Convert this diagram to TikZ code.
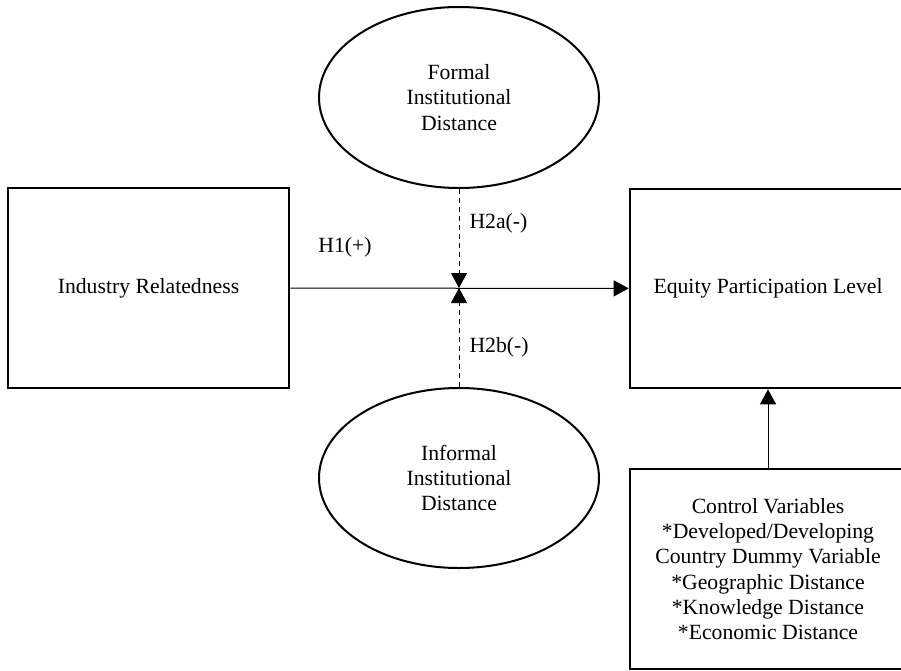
\documentclass[tikz,border=0pt]{standalone}
\usepackage{fontspec}
\setmainfont{Liberation Serif}
\usetikzlibrary{arrows.meta,shapes.geometric}

\begin{document}
\begin{tikzpicture}[x=1pt,y=-1pt,
  every node/.style={font=\fontsize{21.7}{25.3}\selectfont},
  varbox/.style={draw, line width=2.6pt, rectangle, inner sep=0pt, align=center},
  modbox/.style={draw, line width=2pt, ellipse, inner sep=0pt, align=center},
  path/.style={line width=1pt, -{Triangle[length=15pt,width=16pt]}},
  modpath/.style={path, dash pattern=on 5pt off 4pt}]
\useasboundingbox (0,0) rectangle (901,671);
\clip (0,0) rectangle (901,671);
\node[varbox, minimum width=281pt, minimum height=200pt] (ind) at (148.5,288){Industry Relatedness};
\node[varbox, minimum width=276pt, minimum height=199pt] (eq) at (768,288.5){Equity Participation Level};
\node[varbox, minimum width=276pt, minimum height=200pt] (ctrl) at (768,569){Control Variables\\*Developed/Developing\\Country Dummy Variable\\*Geographic Distance\\*Knowledge Distance\\*Economic Distance};
\node[modbox, minimum width=280pt, minimum height=181pt] (formal) at (459,97.5){Formal\\Institutional\\Distance};
\node[modbox, minimum width=280pt, minimum height=180pt] (informal) at (459,478){Informal\\Institutional\\Distance};
\coordinate (mid) at (459,288);
\draw[path] (ind) -- (eq);
\draw[modpath] (formal) -- (mid);
\draw[modpath] (informal) -- (mid);
\draw[path] (ctrl) -- (eq);
\node[anchor=center] (h1) at (345,247){H1(+)};
\node[anchor=west] (h2a) at (466,223){H2a(-)};
\node[anchor=west] (h2b) at (466,347){H2b(-)};

\end{tikzpicture}
\end{document}
